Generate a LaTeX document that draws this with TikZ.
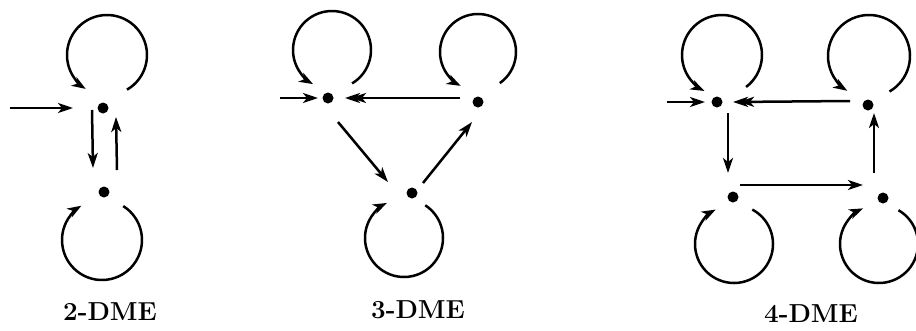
\documentclass[tikz,border=0pt]{standalone}
\usepackage{fontspec}
\usetikzlibrary{arrows.meta,calc}
\begin{document}
\begin{tikzpicture}[x=1pt,y=-1pt,
  dot/.style={circle,fill=black,inner sep=0pt,minimum size=11pt},
  arr/.style={line width=2.5pt,-{Stealth[length=15pt,width=10pt,inset=4pt]}},
  darr/.style={line width=2.5pt,-{Stealth[length=15pt,width=10pt,inset=4pt,sep=-9pt]Stealth[length=15pt,width=10pt,inset=4pt]}},
  lp/.style={line width=2.5pt,-{Stealth[length=14pt,width=10pt,inset=4pt]}},
  lbl/.style={anchor=base,font=\fontsize{26}{30}\selectfont\bfseries}]
\useasboundingbox (0,0) rectangle (916,330);
% ---------- 2-DME
\node[dot] (A1) at (103,108) {};
\node[dot] (A2) at (104,192) {};
\coordinate (A0) at (10,108);
\draw[lp] ($(A1)+(4,-53)+(60:40)$) arc[start angle=60,end angle=-238,radius=40];
\draw[lp] ($(A2)+(-2,48)+(-58:40)$) arc[start angle=-58,end angle=239,radius=40];
\draw[arr,shorten >=30pt] (A0) -- (A1.center);
\draw[arr] ($(A1)+(-11,2)$) -- ($(A2)+(-11,-24)$);
\draw[arr] ($(A2)+(13,-22)$) -- ($(A1)+(13,9)$);
\node[lbl] (LA) at (110,320) {2-DME};
% ---------- 3-DME
\node[dot] (B1) at (328,98) {};
\node[dot] (B2) at (478,102) {};
\node[dot] (B3) at (412,193) {};
\coordinate (B0) at (280,98);
\draw[lp] ($(B1)+(4,-48)+(59:39)$) arc[start angle=59,end angle=-241,radius=39];
\draw[lp] ($(B2)+(0,-50)+(55:38)$) arc[start angle=55,end angle=-243,radius=38];
\draw[lp] ($(B3)+(-8,45)+(-57:39)$) arc[start angle=-57,end angle=244,radius=39];
\draw[arr,shorten >=10pt] (B0) -- (B1.center);
\draw[darr] ($(B2)+(-18,-4)$) -- ($(B1)+(17,0)$);
\draw[arr] ($(B1)+(10,24)$) -- ($(B3)+(-24,-11)$);
\draw[arr] ($(B3)+(11,-10)$) -- ($(B2)+(-6,20)$);
\node[lbl] (LB) at (418,318) {3-DME};
% ---------- 4-DME
\node[dot] (C1) at (717,102) {};
\node[dot] (C2) at (868,105) {};
\node[dot] (C3) at (733,197) {};
\node[dot] (C4) at (883,198) {};
\coordinate (C0) at (667,102);
\draw[lp] ($(C1)+(5,-47)+(53:40)$) arc[start angle=53,end angle=-244,radius=40];
\draw[lp] ($(C2)+(1,-49)+(60:41)$) arc[start angle=60,end angle=-238,radius=41];
\draw[lp] ($(C3)+(1,47)+(-62:39)$) arc[start angle=-62,end angle=242,radius=39];
\draw[lp] ($(C4)+(-4,46)+(-60:39)$) arc[start angle=-60,end angle=246,radius=39];
\draw[arr,shorten >=12pt] (C0) -- (C1.center);
\draw[darr] ($(C2)+(-18,-4)$) -- ($(C1)+(16,0)$);
\draw[arr] ($(C1)+(11,11)$) -- ($(C3)+(-5,-24)$);
\draw[arr] ($(C3)+(7,-12)$) -- ($(C4)+(-20,-13)$);
\draw[arr] ($(C4)+(-9,-25)$) -- ($(C2)+(6,8)$);
\node[lbl] (LC) at (811,322) {4-DME};
\end{tikzpicture}
\end{document}
